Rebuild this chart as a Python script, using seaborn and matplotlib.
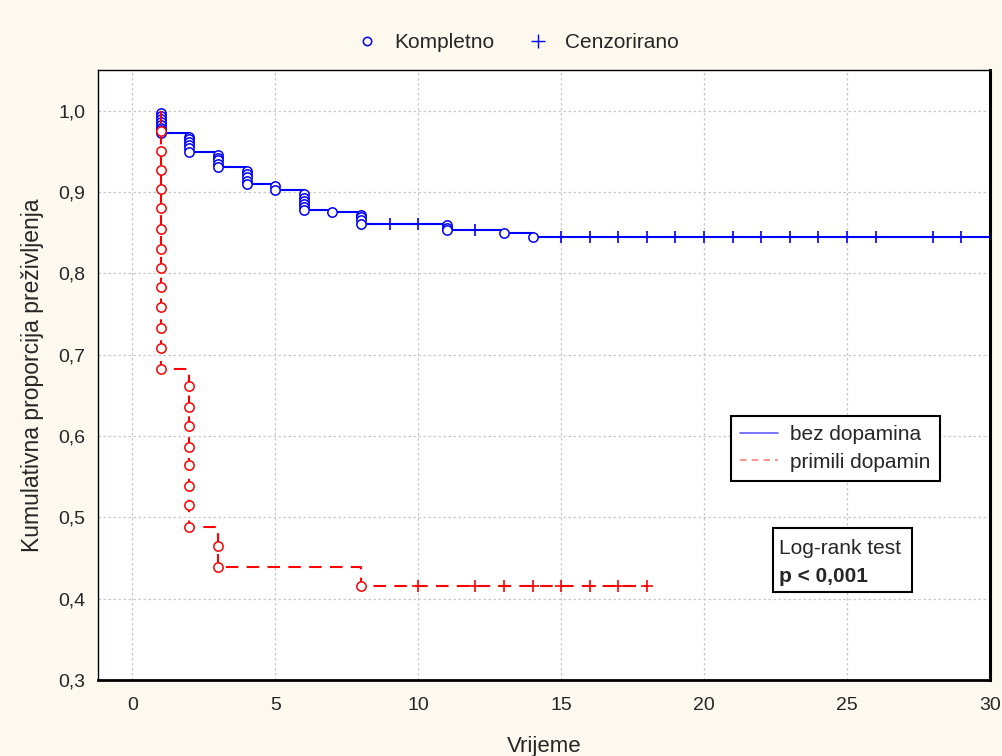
import matplotlib
matplotlib.use('Agg')
import matplotlib.pyplot as plt
import seaborn as sns
from matplotlib.lines import Line2D
from matplotlib.patches import Rectangle

# krivulje preživljenja (Kaplan-Meier), očitano sa slike
blue_t = [1, 2, 3, 4, 5, 6, 7, 8, 11, 13, 14, 30]
blue_s = [0.972, 0.949, 0.931, 0.910, 0.903, 0.878, 0.875, 0.861, 0.853, 0.850, 0.845, 0.845]
red_t = [1, 1, 2, 3, 8, 18]
red_s = [1.0, 0.683, 0.488, 0.439, 0.415, 0.415]

# kompletni podaci (kružići)
blue_ev_t = [1]*8 + [2]*6 + [3]*5 + [4]*5 + [5]*2 + [6]*6 + [7] + [8]*4 + [11]*3 + [13, 14]
blue_ev_s = [0.997, 0.993, 0.990, 0.986, 0.983, 0.979, 0.976, 0.972,
             0.968, 0.965, 0.961, 0.958, 0.954, 0.949,
             0.946, 0.942, 0.939, 0.935, 0.931,
             0.926, 0.922, 0.918, 0.914, 0.910,
             0.907, 0.903,
             0.897, 0.893, 0.889, 0.885, 0.881, 0.878,
             0.875,
             0.872, 0.869, 0.865, 0.861,
             0.859, 0.856, 0.853,
             0.850, 0.845]
red_ev_t = [1]*13 + [2]*8 + [3]*2 + [8]
red_ev_s = [0.975, 0.951, 0.927, 0.904, 0.880, 0.855, 0.830, 0.807, 0.783, 0.759, 0.733, 0.708, 0.683,
            0.661, 0.636, 0.612, 0.587, 0.564, 0.539, 0.515, 0.488,
            0.465, 0.439,
            0.415]

# cenzorirani podaci (plus)
blue_cens_t = [9, 10, 12, 15, 16, 17, 18, 19, 20, 21, 22, 23, 24, 25, 26, 28, 29]
blue_cens_s = [0.861, 0.861, 0.853] + [0.845]*14
red_cens_t = [10, 12, 13, 14, 15, 16, 17, 18]
red_cens_s = [0.415]*8

sns.set_style('white')
plt.rcParams['font.family'] = ['Liberation Sans', 'DejaVu Sans']

fig = plt.figure(figsize=(10.02, 7.56), dpi=100, facecolor='#fdf9ef')
ax = fig.add_axes([0.0978, 0.1005, 0.8902, 0.8069])
ax.set_facecolor('white')

BLUE = '#0000ff'
RED = '#ff0000'

sns.lineplot(x=blue_t, y=blue_s, ax=ax, color=BLUE, lw=1.5, drawstyle='steps-post',
             sort=False, estimator=None, zorder=3)
sns.lineplot(x=red_t, y=red_s, ax=ax, color=RED, lw=1.5, drawstyle='steps-post',
             sort=False, estimator=None, zorder=5, linestyle=(0, (6, 4)))

ax.scatter(blue_cens_t, blue_cens_s, marker='+', s=80, color=BLUE, lw=1.2, zorder=4)
ax.scatter(red_cens_t, red_cens_s, marker='+', s=80, color=RED, lw=1.2, zorder=6)
ax.scatter(blue_ev_t, blue_ev_s, marker='o', s=45, facecolor='white', edgecolor=BLUE, lw=1.1, zorder=4)
ax.scatter(red_ev_t, red_ev_s, marker='o', s=45, facecolor='white', edgecolor=RED, lw=1.1, zorder=6)

ax.set_xlim(-1.2, 30)
ax.set_ylim(0.3, 1.05)
ax.set_xticks(range(0, 31, 5))
ax.set_yticks([0.3, 0.4, 0.5, 0.6, 0.7, 0.8, 0.9, 1.0])
ax.set_yticklabels([f'{v:.1f}'.replace('.', ',') for v in ax.get_yticks()])
ax.tick_params(labelsize=14, direction='in', length=3, color='black')
ax.tick_params(axis='x', pad=12)
ax.tick_params(axis='y', pad=9)
ax.grid(True, ls=(0, (2, 2)), color='#c8c8c8', lw=0.9)
for sp in ax.spines.values():
    sp.set_color('black')
    sp.set_linewidth(1.0)
ax.spines['right'].set_linewidth(2.2)
ax.spines['bottom'].set_linewidth(2.0)

ax.set_xlabel('Vrijeme', fontsize=16, labelpad=16)
ax.set_ylabel('Kumulativna proporcija preživljenja', fontsize=16.5, labelpad=10)

# gornja legenda (vrsta podataka)
top_handles = [Line2D([], [], ls='none', marker='o', ms=6, mfc='none', mec=BLUE, mew=1.1),
               Line2D([], [], ls='none', marker='+', ms=10, color=BLUE, mew=1.0)]
fig.legend(top_handles, ['Kompletno', 'Cenzorirano'], loc='center', bbox_to_anchor=(0.515, 0.944),
           ncol=2, frameon=False, fontsize=15, handletextpad=0.6, columnspacing=1.4, handlelength=1.4)

# legenda grupa
grp_handles = [Line2D([], [], color='#6060ff', lw=1.2),
               Line2D([], [], color='#ff8080', lw=1.2, ls=(0, (4, 3)))]
leg = ax.legend(grp_handles, ['bez dopamina', 'primili dopamin'], loc='upper left',
                bbox_to_anchor=(0.7096, 0.4328), fontsize=15, frameon=True, fancybox=False,
                edgecolor='black', framealpha=1, handlelength=1.8, handletextpad=0.6,
                borderpad=0.45, labelspacing=0.4, borderaxespad=0)
leg.get_frame().set_linewidth(1.5)

# okvir za log-rank test
ax.add_patch(Rectangle((0.757, 0.144), 0.1556, 0.105, transform=ax.transAxes, fc='white',
                       ec='black', lw=1.5, zorder=10))
ax.text(0.763, 0.216, 'Log-rank test', transform=ax.transAxes, fontsize=15, va='center',
        ha='left', zorder=11)
ax.text(0.763, 0.170, 'p < 0,001', transform=ax.transAxes, fontsize=15, va='center',
        ha='left', fontweight='bold', zorder=11)

plt.savefig('out.png', dpi=100, facecolor=fig.get_facecolor())
